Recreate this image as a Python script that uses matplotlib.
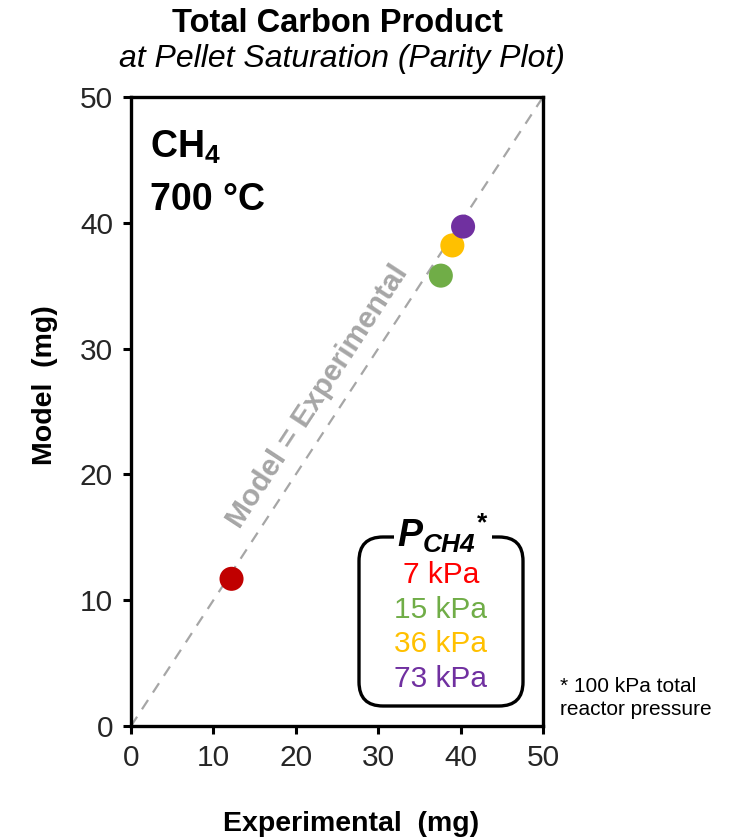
import numpy as np
import matplotlib
matplotlib.use("Agg")
import matplotlib.pyplot as plt
from matplotlib.patches import FancyBboxPatch

plt.rcParams['font.family'] = ['Liberation Sans', 'DejaVu Sans']
plt.rcParams['mathtext.fontset'] = 'custom'
plt.rcParams['mathtext.rm'] = 'Liberation Sans:bold:italic'
plt.rcParams['mathtext.it'] = 'Liberation Sans:bold:italic'
plt.rcParams['mathtext.bf'] = 'Liberation Sans:bold'

# data
pressures = ['7 kPa', '15 kPa', '36 kPa', '73 kPa']
experimental = [12.2, 37.6, 39.0, 40.3]
model = [11.7, 35.8, 38.2, 39.7]
point_colors = ['#C00000', '#70AD47', '#FFC000', '#7030A0']
label_colors = ['#FF0000', '#70AD47', '#FFC000', '#7030A0']
ticks = [0, 10, 20, 30, 40, 50]

fig = plt.figure(figsize=(7.41, 8.39), dpi=100)
ax = fig.add_axes([131 / 741, 113 / 839, 412 / 741, 629 / 839])

# parity line
ax.plot([0, 50], [0, 50], color='#A6A6A6', linestyle=(0, (5, 4)), linewidth=1.6, zorder=1)
ax.text(22.7, 26.2, 'Model = Experimental', rotation=56.8, rotation_mode='anchor',
        ha='center', va='center', fontsize=21.5, fontweight='bold', color='#A6A6A6')

ax.scatter(experimental, model, s=300, c=point_colors, edgecolors='none', zorder=3)

ax.set_xlim(0, 50)
ax.set_ylim(0, 50)
ax.set_xticks(ticks)
ax.set_yticks(ticks)
ax.tick_params(direction='out', length=6, width=2.2, labelsize=21.5, labelcolor='#262626',
               pad=7, top=False, right=False)
for sp in ax.spines.values():
    sp.set_linewidth(2.4)

ax.set_xlabel('Experimental  (mg)', fontsize=20.5, fontweight='bold')
ax.set_ylabel('Model  (mg)', fontsize=20.5, fontweight='bold')
ax.xaxis.set_label_coords(0.534, -0.135)
ax.yaxis.set_label_coords(-0.178, 0.542)

ax.text(0.045, 0.95, r'$\mathbf{CH}_\mathbf{4}$', transform=ax.transAxes,
        fontsize=27, ha='left', va='top')
ax.text(0.045, 0.865, '700 °C', transform=ax.transAxes, fontsize=27,
        fontweight='bold', ha='left', va='top')

# titles
fig.text(338 / 741, 1 - 23 / 839, 'Total Carbon Product', fontsize=23.5, fontweight='bold',
         ha='center', va='center')
fig.text(342 / 741, 1 - 59 / 839, 'at Pellet Saturation (Parity Plot)', fontsize=23,
         style='italic', ha='center', va='center')

# legend box in pixel units
lax = fig.add_axes([357 / 741, 131 / 839, 168 / 741, 173 / 839])
lax.set_xlim(0, 168)
lax.set_ylim(0, 173)
lax.axis('off')
box = FancyBboxPatch((2, 2), 164, 169, boxstyle='round,pad=0,rounding_size=24',
                     facecolor='white', edgecolor='black', linewidth=2.4, clip_on=False)
lax.add_patch(box)
lax.text(86, 175, r'$P_{CH4}{}^{*}$', fontsize=27, ha='center', va='center',
         bbox=dict(facecolor='white', edgecolor='none', pad=2), clip_on=False)
for i, (lab, col) in enumerate(zip(pressures, label_colors)):
    lax.text(84, 133 - i * 34.7, lab, fontsize=21.5, color=col, ha='center', va='center')

fig.text(560 / 741, 1 - 698 / 839, '* 100 kPa total\nreactor pressure', fontsize=15,
         ha='left', va='center', linespacing=1.3)

fig.savefig('out.png', dpi=100)
